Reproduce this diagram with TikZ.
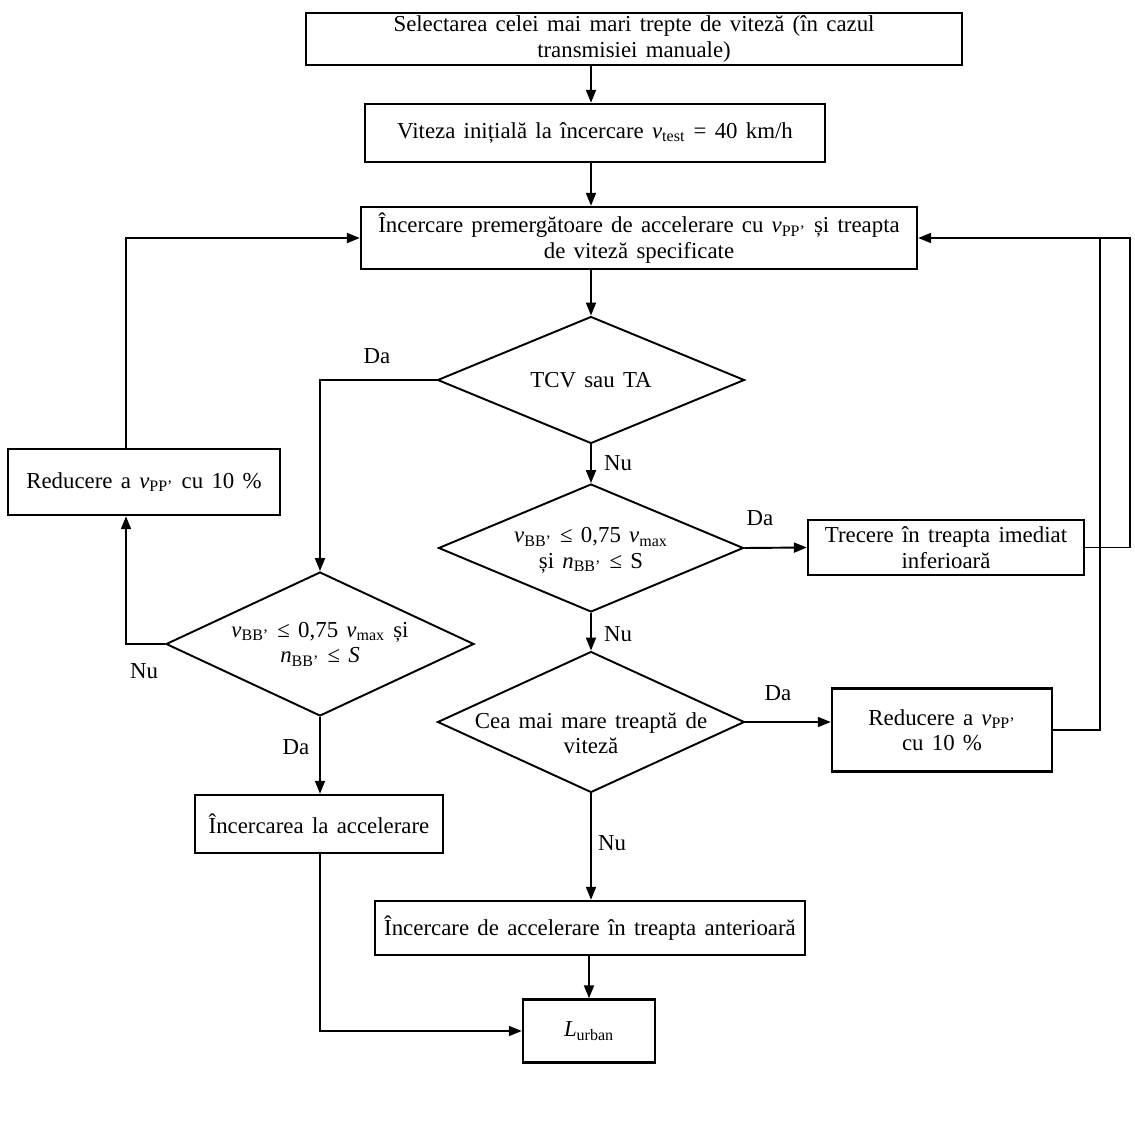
\documentclass[tikz,border=0pt]{standalone}
\usepackage{fontspec}
\setmainfont[WordSpace=1.45]{Liberation Serif}
\usetikzlibrary{arrows.meta,shapes.geometric}
\newcommand\myv[1]{\textit{v}\textsubscript{#1}}
\newcommand\myn[1]{\textit{n}\textsubscript{#1}}
\begin{document}
\begin{tikzpicture}[x=0.02cm,y=-0.02cm,
  txt/.style={font=\fontsize{13}{14.5}\selectfont, align=center},
  box/.style={draw, line width=1.4pt, inner sep=0pt, txt},
  dia/.style={draw, diamond, line width=1.1pt, inner sep=0pt, aspect=2.4},
  lbl/.style={font=\fontsize{13}{14.5}\selectfont, inner sep=0pt},
  arr/.style={line width=1.1pt, -{Triangle[length=0.26cm,width=0.2cm]}},
  ln/.style={line width=1.1pt}]
\useasboundingbox (0,0) rectangle (1135,1135);
\fill[white] (0,0) rectangle (1135,1135);

% boxes
\node[box, minimum width=13.12cm, minimum height=1.04cm] (b1) at (634,39)
  {Selectarea celei mai mari trepte de viteză (în cazul\\transmisiei manuale)};
\node[box, minimum width=9.2cm, minimum height=1.16cm] (b2) at (595,133)
  {Viteza inițială la încercare \myv{test} = 40 km/h};
\node[box, minimum width=11.12cm, minimum height=1.24cm] (b3) at (639,238)
  {Încercare premergătoare de accelerare cu \myv{PP'} și treapta\\de viteză specificate};
\node[box, minimum width=5.52cm, minimum height=1.1cm] (tr) at (946,547.5)
  {Trecere în treapta imediat\\inferioară};
\node[box, minimum width=4.4cm, minimum height=1.66cm] (r2) at (942,730)
  {Reducere a \myv{PP'}\\cu 10 \%};
\node[box, minimum width=5.44cm, minimum height=1.32cm] (r1) at (144,482)
  {Reducere a \myv{PP'} cu 10 \%};
\node[box, minimum width=4.96cm, minimum height=1.16cm] (ia) at (319,824)
  {Încercarea la accelerare};
\node[box, minimum width=8.6cm, minimum height=1.08cm] (ip) at (590,928)
  {Încercare de accelerare în treapta anterioară};
\node[box, minimum width=2.64cm, minimum height=1.26cm] (lu) at (589,1031)
  {\textit{L}\textsubscript{urban}};

% diamonds
\node[dia, minimum width=6.14cm, minimum height=2.54cm] (d1) at (591,380) {};
\node[txt] (d1t) at (d1) {TCV sau TA};
\node[dia, minimum width=6.1cm, minimum height=2.56cm] (d2) at (591,548) {};
\node[txt, yshift=-0.05cm] (d2t) at (d2) {\myv{BB'} ≤ 0,75 \myv{max}\\și \myn{BB'} ≤ S};
\node[dia, minimum width=6.14cm, minimum height=2.82cm] (d4) at (591,722) {};
\node[txt, yshift=-0.22cm] (d4t) at (d4) {Cea mai mare treaptă de\\viteză};
\node[dia, minimum width=6.16cm, minimum height=2.88cm] (d3) at (320,644) {};
\node[txt] (d3t) at (d3) {\myv{BB'} ≤ 0,75 \myv{max} și\\\myn{BB'} ≤ \textit{S}};

% helper coordinates
\coordinate (cx) at (591,0);
\coordinate (rA) at (1130,238);
\coordinate (rB) at (1100,238);
\coordinate (lA) at (126,238);

% connectors
\draw[arr] (b1.south -| cx) -- (b2.north -| cx);
\draw[arr] (b2.south -| cx) -- (b3.north -| cx);
\draw[arr] (b3.south -| d1.north) -- (d1.north);
\draw[arr] (d1.south) -- (d2.north);
\draw[arr] (d2.south) -- (d4.north);
\draw[arr] (d4.south) -- (ip.north -| d4.south);
\draw[arr] (ip.south -| lu.north) -- (lu.north);
\draw[arr] (d2.east) -- (tr.west);
\draw[arr] (d4.east) -- (r2.west |- d4.east);
\draw[arr] (tr.east) -| (rA) -- (b3.east);
\draw[ln] (r2.east) -| (rB);
\draw[arr] (d1.west) -| (d3.north);
\draw[arr] (d3.west) -| (r1.south -| lA);
\draw[arr] (r1.north -| lA) -- (lA) -- (b3.west);
\draw[arr] (d3.south) -- (ia.north -| d3.south);
\draw[arr] (ia.south -| d3.south) |- (lu.west);

% labels
\node[lbl] (l1) at (377,356) {Da};
\node[lbl] (l2) at (618,463) {Nu};
\node[lbl] (l3) at (760,518) {Da};
\node[lbl] (l4) at (618,634) {Nu};
\node[lbl] (l5) at (778,693) {Da};
\node[lbl] (l6) at (612,843) {Nu};
\node[lbl] (l7) at (144,671) {Nu};
\node[lbl] (l8) at (296,747) {Da};
\end{tikzpicture}
\end{document}
